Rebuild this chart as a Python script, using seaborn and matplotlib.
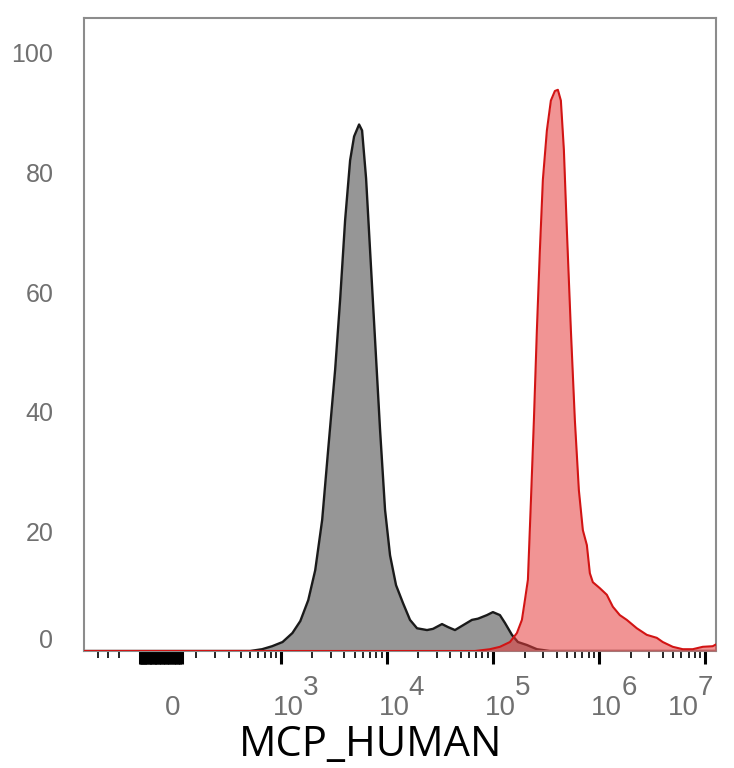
import numpy as np
import matplotlib
matplotlib.use("Agg")
import matplotlib.pyplot as plt
import matplotlib.transforms as mtransforms
import seaborn as sns

# ---- data (intensity, % of max) ----
gray_x = [-700, 500, 658, 824, 1039, 1290, 1534, 1825, 2124, 2471, 2814, 3276, 3651,
          4069, 4535, 4945, 5511, 5882, 6415, 6994, 7795, 8686, 9681, 10790, 12290,
          14300, 16640, 19370, 24060, 27390, 33310, 37920, 44130, 52480, 63790, 72640,
          88280, 100500, 117000, 130400, 151800, 172800, 210100, 260900, 345800, 1.27e7]
gray_y = [0, 0, 0.3, 0.8, 1.5, 3.0, 5.0, 8.5, 13.5, 21.9, 33.6, 47, 58.7,
          72, 82, 86, 88, 87, 79, 67, 52, 37, 23.6, 16, 11,
          8, 5.2, 3.8, 3.5, 3.7, 4.5, 4.0, 3.5, 4.3, 5.2, 5.4,
          6.0, 6.5, 6.0, 4.7, 2.7, 1.5, 1.0, 0.3, 0, 0]

red_x = [-700, 68080, 94190, 117000, 145400, 169100, 188500, 201200, 214700, 229100,
         244500, 260900, 278400, 297100, 324000, 353300, 385400, 411300, 438900,
         468400, 499700, 545100, 594500, 648400, 707100, 771400, 823100, 878100,
         1022000, 1189000, 1355000, 1576000, 1834000, 2279000, 2830000, 3515000,
         4003000, 4972000, 6175000, 7667000, 9524000, 11830000, 12700000]
red_y = [0, 0, 0.3, 0.7, 1.5, 3.0, 5.2, 8.5, 11.9, 25,
         38.6, 53.7, 67, 78.8, 87, 92, 93.6, 93.8, 92,
         83.8, 70.4, 53.7, 38.6, 26.9, 20.2, 17.7, 13.0, 11.5,
         10.5, 9.4, 7.4, 6.0, 5.2, 3.8, 2.7, 2.2,
         1.5, 0.7, 0.3, 0.3, 0.7, 0.8, 1.1]

y_ticks = [0, 20, 40, 60, 80, 100]
decades = [3, 4, 5, 6, 7]
zero_block = list(range(-165, 35, 6))
lin_minor = [-500, -400, -300] + list(range(100, 1000, 100))
log_minor = [m * 10 ** k for k in range(3, 7) for m in range(2, 10)]

W = 200.0


def fwd(x):
    return np.arcsinh(np.asarray(x, dtype=float) / W) / np.log(10)


def inv(u):
    return W * np.sinh(np.asarray(u, dtype=float) * np.log(10))


sns.set_style("white")
plt.rcParams['font.family'] = ['Liberation Sans', 'DejaVu Sans']

fig = plt.figure(figsize=(7.34, 7.68), dpi=100)
ax = fig.add_axes([84 / 734, 1 - 651 / 768, 632 / 734, 633 / 768])
ax.set_xscale('function', functions=(fwd, inv))

# gray histogram
ax.fill_between(gray_x, gray_y, color='#969696', linewidth=0, zorder=1)
sns.lineplot(x=gray_x, y=gray_y, ax=ax, color='#1a1a1a', linewidth=1.7,
             estimator=None, sort=False, zorder=2)
# red histogram
ax.fill_between(red_x, red_y, color='#e63c3c', alpha=0.55, linewidth=0, zorder=3)
sns.lineplot(x=red_x, y=red_y, ax=ax, color='#d21414', linewidth=1.5,
             estimator=None, sort=False, zorder=4)

ax.set_xlim(-694, 1.27e7)
ax.set_ylim(0, 105.8)

# y axis
ax.set_yticks(y_ticks)
ax.set_yticklabels([str(v) for v in y_ticks])
ax.tick_params(axis='y', length=0, pad=22, labelsize=18, labelcolor='#707070')
# lift the zero label a bit like the original
lab0 = ax.get_yticklabels()[0]
lab0.set_transform(lab0.get_transform() + mtransforms.ScaledTranslation(0, 12 / 100, fig.dpi_scale_trans))

# x axis ticks
major = zero_block + [10 ** k for k in decades]
ax.set_xticks(major)
ax.set_xticklabels([''] * len(major))
ax.set_xticks(lin_minor + log_minor, minor=True)
ax.tick_params(axis='x', which='major', direction='out', length=9, width=2.2,
               color='black', bottom=True)
ax.tick_params(axis='x', which='minor', direction='out', length=5, width=1.2,
               color='black', bottom=True)

trans = mtransforms.blended_transform_factory(ax.transData, ax.transAxes)


def px(dx, dy):
    return mtransforms.ScaledTranslation(dx / 100, dy / 100, fig.dpi_scale_trans)


ax.text(0, 0, '0', transform=trans + px(-2, -57), ha='center', va='center',
        fontsize=20, color='#707070')
for k in decades:
    shift = -30 if k == decades[-1] else 0   # last label pulled inside the frame
    ax.text(10 ** k, 0, '10', transform=trans + px(8 + shift, -57), ha='center', va='center',
            fontsize=20, color='#707070')
    ax.text(10 ** k, 0, str(k), transform=trans + px(30 + shift, -37), ha='center', va='center',
            fontsize=20, color='#707070')

for s in ax.spines.values():
    s.set_color('#8c8c8c')
    s.set_linewidth(1.5)

ax.set_xlabel('MCP_HUMAN', fontsize=30, family=['Open Sans', 'DejaVu Sans'], color='black')
ax.xaxis.set_label_coords(0.454, -0.1485)
ax.xaxis.label.set_va('center')
ax.set_ylabel('')

fig.savefig('out.png', dpi=100)
